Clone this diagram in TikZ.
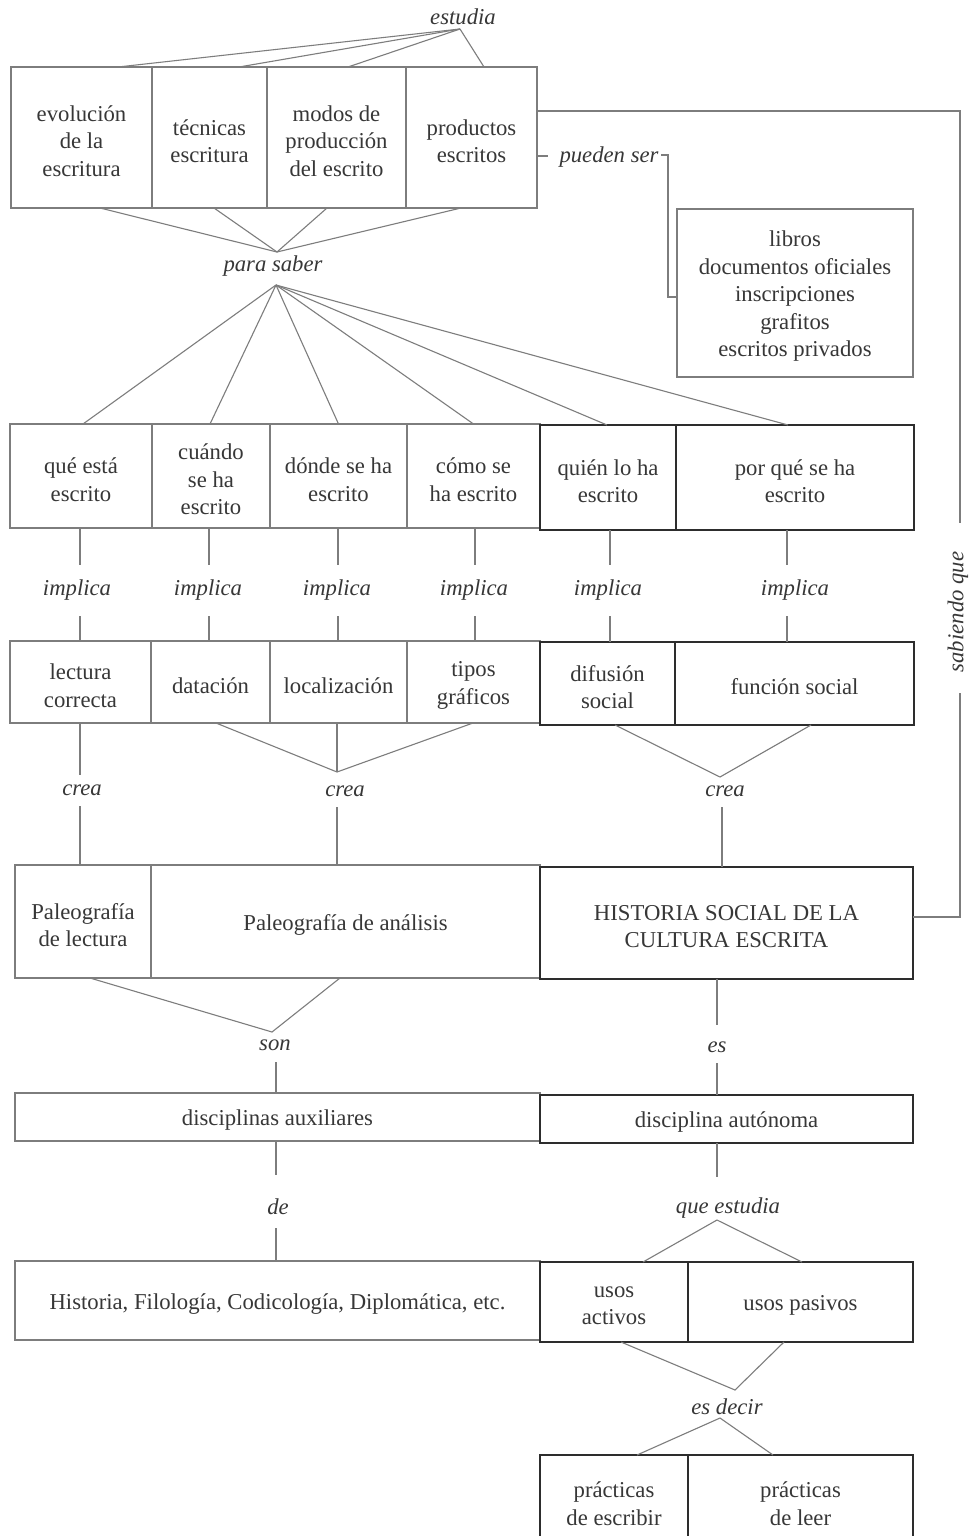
\documentclass[tikz,border=0pt]{standalone}
\usepackage{fontspec}
\setmainfont{Liberation Serif}
\definecolor{ln}{RGB}{125,125,125}
\definecolor{thk}{RGB}{45,45,45}
\definecolor{tx}{RGB}{55,55,55}
\begin{document}
\begin{tikzpicture}[x=1pt,y=-1pt,
  ctext/.style={align=center, inner sep=0pt, text=tx, yshift=-3.5pt,
    font=\fontsize{22.7}{27.5}\selectfont},
  cell/.style={draw=ln, line width=1.1pt, inner sep=0pt, outer sep=0pt,
    label={[ctext]center:{#1}}},
  tcell/.style={cell={#1}, draw=thk, line width=2.5pt},
  lbl/.style={inner sep=0pt, text=tx, font=\fontsize{22.7}{27.5}\selectfont\itshape},
  cn/.style={draw=ln, line width=1.1pt}]
\fill[white] (0,0) rectangle (969,1536);
\clip (0,0) rectangle (969,1536);

% ---------- top row
\node[cell={evolución\\de la\\escritura}, minimum width=141pt, minimum height=141pt] (evol)  at (81.5,137.5) {};
\node[cell={técnicas\\escritura}, minimum width=115pt, minimum height=141pt] (tecn)  at (209.5,137.5) {};
\node[cell={modos de\\producción\\del escrito}, minimum width=139pt, minimum height=141pt] (modos) at (336.5,137.5) {};
\node[cell={productos\\escritos}, minimum width=131pt, minimum height=141pt] (prod)  at (471.5,137.5) {};

\node[lbl] (estudia) at (463,17) {estudia};
\coordinate (estA) at (460,29);
\draw[cn] (estA) -- ([xshift=36.5pt]evol.north);
\draw[cn] (estA) -- ([xshift=29.5pt]tecn.north);
\draw[cn] (estA) -- ([xshift=11.5pt]modos.north);
\draw[cn] (estA) -- ([xshift=12.5pt]prod.north);

% ---------- libros box
\node[cell={libros\\documentos oficiales\\inscripciones\\grafitos\\escritos privados},
  minimum width=236pt, minimum height=168pt] (libros) at (795,293) {};
\node[lbl] (pueden) at (609,157) {pueden ser};
\coordinate (pu1) at (548,156);
\coordinate (pu2) at (661,155);
\coordinate (pu3) at (668,155);
\draw[cn] ([yshift=-18.5pt]prod.east) -- (pu1);
\draw[cn] (pu2) -- (pu3) |- ([yshift=-4pt]libros.west);

% ---------- para saber
\node[lbl] (parasaber) at (273,266) {para saber};
\coordinate (psA) at (277,252);
\coordinate (psB) at (276,285);
\draw[cn] ([xshift=18.5pt]evol.south) -- (psA);
\draw[cn] ([xshift=4.5pt]tecn.south) -- (psA);
\draw[cn] ([xshift=-9.5pt]modos.south) -- (psA);
\draw[cn] ([xshift=-10.5pt]prod.south) -- (psA);

% ---------- row 2
\node[cell={qué está\\escrito}, minimum width=142pt, minimum height=104pt] (que)    at (81,476) {};
\node[cell={cuándo\\se ha\\escrito}, minimum width=118pt, minimum height=104pt] (cuando) at (211,476) {};
\node[cell={dónde se ha\\escrito}, minimum width=137pt, minimum height=104pt] (donde)  at (338.5,476) {};
\node[cell={cómo se\\ha escrito}, minimum width=133pt, minimum height=104pt] (como)   at (473.5,476) {};
\node[tcell={quién lo ha\\escrito}, minimum width=136pt, minimum height=105pt] (quien)  at (608,477.5) {};
\node[tcell={por qué se ha\\escrito}, minimum width=238pt, minimum height=105pt] (porque) at (795,477.5) {};

\draw[cn] (psB) -- ([xshift=2pt]que.north);
\draw[cn] (psB) -- ([xshift=-1pt]cuando.north);
\draw[cn] (psB) -- (donde.north);
\draw[cn] (psB) -- (como.north);
\draw[cn] (psB) -- ([xshift=-1pt]quien.north);
\draw[cn] (psB) -- ([xshift=-7pt]porque.north);

% ---------- implica
\node[lbl] (imp1) at (77,590) {implica};
\node[lbl] (imp2) at (208,590) {implica};
\node[lbl] (imp3) at (337,590) {implica};
\node[lbl] (imp4) at (474,590) {implica};
\node[lbl] (imp5) at (608,590) {implica};
\node[lbl] (imp6) at (795,590) {implica};

% ---------- row 3
\node[cell={lectura\\correcta}, minimum width=141pt, minimum height=82pt] (lectura)  at (80.5,682) {};
\node[cell={datación}, minimum width=119pt, minimum height=82pt] (datacion) at (210.5,682) {};
\node[cell={localización}, minimum width=137pt, minimum height=82pt] (localiz)  at (338.5,682) {};
\node[cell={tipos\\gráficos}, minimum width=133pt, minimum height=82pt] (tipos)    at (473.5,682) {};
\node[tcell={difusión\\social}, minimum width=135pt, minimum height=83pt] (difusion) at (607.5,683.5) {};
\node[tcell={función social}, minimum width=239pt, minimum height=83pt] (funcion)  at (794.5,683.5) {};

\coordinate (i1a) at (80,565);  \coordinate (i1b) at (80,616);
\coordinate (i2a) at (209,565); \coordinate (i2b) at (209,616);
\coordinate (i3a) at (338,565); \coordinate (i3b) at (338,616);
\coordinate (i4a) at (475,565); \coordinate (i4b) at (475,616);
\coordinate (i5a) at (610,565); \coordinate (i5b) at (610,616);
\coordinate (i6a) at (787,565); \coordinate (i6b) at (787,616);
\draw[cn] (que.south -| i1a) -- (i1a);    \draw[cn] (i1b) -- (lectura.north -| i1b);
\draw[cn] (cuando.south -| i2a) -- (i2a); \draw[cn] (i2b) -- (datacion.north -| i2b);
\draw[cn] (donde.south -| i3a) -- (i3a);  \draw[cn] (i3b) -- (localiz.north -| i3b);
\draw[cn] (como.south -| i4a) -- (i4a);   \draw[cn] (i4b) -- (tipos.north -| i4b);
\draw[cn] (quien.south -| i5a) -- (i5a);  \draw[cn] (i5b) -- (difusion.north -| i5b);
\draw[cn] (porque.south -| i6a) -- (i6a); \draw[cn] (i6b) -- (funcion.north -| i6b);

% ---------- crea
\node[lbl] (crea1) at (82,790) {crea};
\node[lbl] (crea2) at (345,791) {crea};
\node[lbl] (crea3) at (725,791) {crea};

% ---------- row 4
\node[cell={Paleografía\\de lectura}, minimum width=136pt, minimum height=113pt] (paleolect) at (83,921.5) {};
\node[cell={Paleografía de análisis}, minimum width=389pt, minimum height=113pt] (paleoan)   at (345.5,921.5) {};
\node[tcell={HISTORIA SOCIAL DE LA\\CULTURA ESCRITA}, minimum width=373pt, minimum height=112pt] (hist) at (726.5,923) {};

\coordinate (c1a) at (80,775);  \coordinate (c1b) at (80,806);
\coordinate (c2a) at (337,772); \coordinate (c2b) at (337,807);
\coordinate (c3a) at (720,777); \coordinate (c3b) at (722,807);
\draw[cn] (lectura.south -| c1a) -- (c1a);
\draw[cn] (c1b) -- (paleolect.north -| c1b);
\draw[cn] ([xshift=5.5pt]datacion.south) -- (c2a) -- ([xshift=-0.5pt]tipos.south);
\draw[cn] (localiz.south -| c2a) -- (c2a);
\draw[cn] (c2b) -- (paleoan.north -| c2b);
\draw[cn] ([xshift=7.5pt]difusion.south) -- (c3a) -- ([xshift=16.5pt]funcion.south);
\draw[cn] (c3b) -- (hist.north -| c3b);

% ---------- sabiendo que
\node[lbl, rotate=90] (sab) at (958,612) {sabiendo que};
\coordinate (rt1) at (960,111);
\coordinate (gap1) at (960,523);
\coordinate (gap2) at (960,693);
\coordinate (rt2) at (960,917);
\draw[cn] ([yshift=-44pt]prod.north east) -- (rt1) -- (gap1);
\draw[cn] (gap2) -- (rt2) -- (hist.east |- rt2);

% ---------- son / es
\node[lbl] (son) at (275,1045) {son};
\node[lbl] (es)  at (717,1047) {es};
\coordinate (sonA) at (272,1032);
\coordinate (sonB) at (276,1062);
\coordinate (esA) at (717,1025);
\coordinate (esB) at (717,1063);

% ---------- row 5
\node[cell={disciplinas auxiliares}, minimum width=525pt, minimum height=48pt] (auxil) at (277.5,1117) {};
\node[tcell={disciplina autónoma}, minimum width=373pt, minimum height=48pt] (auton) at (726.5,1119) {};

\draw[cn] ([xshift=7pt]paleolect.south) -- (sonA) -- ([xshift=-5.5pt]paleoan.south);
\draw[cn] (sonB) -- (auxil.north -| sonB);
\draw[cn] (hist.south -| esA) -- (esA);
\draw[cn] (esB) -- (auton.north -| esB);

% ---------- de / que estudia
\node[lbl] (de) at (278,1207) {de};
\node[lbl] (queest) at (728,1208) {que estudia};
\coordinate (deA) at (276,1175);
\coordinate (deB) at (276,1228);
\coordinate (qeA) at (717,1177);
\coordinate (qeB) at (717,1220);

% ---------- row 6
\node[cell={Historia, Filología, Codicología, Diplomática, etc.}, minimum width=525pt, minimum height=79pt] (histfil) at (277.5,1300.5) {};
\node[tcell={usos\\activos}, minimum width=148pt, minimum height=80pt] (activos) at (614,1302) {};
\node[tcell={usos pasivos}, minimum width=225pt, minimum height=80pt] (pasivos) at (800.5,1302) {};

\draw[cn] (auxil.south -| deA) -- (deA);
\draw[cn] (deB) -- (histfil.north -| deB);
\draw[cn] (auton.south -| qeA) -- (qeA);
\draw[cn] ([xshift=29pt]activos.north) -- (qeB) -- ([xshift=1.5pt]pasivos.north);

% ---------- es decir
\node[lbl] (esdecir) at (727,1407) {es decir};
\coordinate (edA) at (735,1390);
\coordinate (edB) at (720,1418);

% ---------- row 7
\node[tcell={prácticas\\de escribir}, minimum width=148pt, minimum height=90pt] (escribir) at (614,1500) {};
\node[tcell={prácticas\\de leer}, minimum width=225pt, minimum height=90pt] (leer) at (800.5,1500) {};

\draw[cn] ([xshift=7pt]activos.south) -- (edA) -- ([xshift=-16.5pt]pasivos.south);
\draw[cn] ([xshift=23pt]escribir.north) -- (edB) -- ([xshift=-27.5pt]leer.north);
\end{tikzpicture}
\end{document}
